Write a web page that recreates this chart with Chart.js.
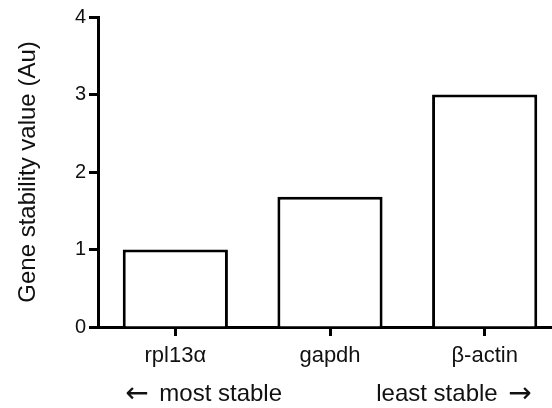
<!DOCTYPE html>
<html>
<head>
<meta charset="utf-8">
<script src="https://cdn.jsdelivr.net/npm/chart.js@4/dist/chart.umd.min.js"></script>
<style>
    html, body { margin: 0; padding: 0; background: #fff; overflow: hidden; }
    #wrap { width: 568px; height: 408px; position: relative; }
</style>
</head>
<body>
<div id="wrap"><canvas id="chart"></canvas></div>
<script>
// 数据
const genes = ['rpl13\u03b1', 'gapdh', '\u03b2-actin'];
const stability = [1.0, 1.68, 3.0];
const yTicks = [0, 1, 2, 3, 4];
const yTitle = 'Gene stability value (Au)';
const leftNote = 'most stable';
const rightNote = 'least stable';

const FONT = "'Liberation Sans', Arial, sans-serif";

// 底部注释文字（箭头用 DejaVu，显得更长）
const notesPlugin = {
    id: 'notes',
    afterDraw(chart) {
        const ctx = chart.ctx;
        const x = chart.scales.x;
        const y = 394;
        ctx.save();
        ctx.fillStyle = '#111';
        ctx.textBaseline = 'middle';
        ctx.font = '24px ' + FONT;
        ctx.textAlign = 'left';
        ctx.fillText(leftNote, x.getPixelForValue(0) - 16, y);
        ctx.textAlign = 'right';
        ctx.fillText(rightNote, x.getPixelForValue(2) + 13, y);
        ctx.font = "28px 'DejaVu Sans'";
        ctx.textAlign = 'left';
        ctx.fillText('\u2190', x.getPixelForValue(0) - 50, y + 1);
        ctx.textAlign = 'right';
        ctx.fillText('\u2192', x.getPixelForValue(2) + 47, y + 1);
        ctx.restore();
    }
};

new Chart(document.getElementById('chart'), {
    type: 'bar',
    data: {
        labels: genes,
        datasets: [{
            data: stability,
            backgroundColor: '#fff',
            borderColor: '#000',
            borderWidth: 3,
            barPercentage: 0.68,
            categoryPercentage: 1
        }]
    },
    options: {
        responsive: true,
        maintainAspectRatio: false,
        animation: false,
        layout: { padding: { top: 17, right: 6, bottom: 0, left: 8 } },
        plugins: {
            legend: { display: false },
            tooltip: { enabled: false }
        },
        scales: {
            x: {
                grid: {
                    display: true,
                    offset: false,
                    drawOnChartArea: false,
                    tickLength: 9,
                    tickWidth: 3,
                    tickColor: '#000'
                },
                border: { width: 3, color: '#000' },
                ticks: {
                    color: '#111',
                    font: { family: FONT, size: 22 },
                    padding: 7,
                    maxRotation: 0
                },
                afterFit(s) { s.height = 81; }
            },
            y: {
                min: 0,
                max: 4,
                afterBuildTicks(s) { s.ticks = yTicks.map(v => ({ value: v })); },
                grid: {
                    display: true,
                    drawOnChartArea: false,
                    tickLength: 9,
                    tickWidth: 3,
                    tickColor: '#000'
                },
                border: { width: 3, color: '#000' },
                ticks: {
                    color: '#111',
                    font: { family: FONT, size: 20 },
                    padding: 3
                },
                title: {
                    display: true,
                    text: yTitle,
                    color: '#111',
                    font: { family: FONT, size: 24 },
                    padding: { top: 6, bottom: 8 }
                },
                afterFit(s) { s.width = 90; }
            }
        }
    },
    plugins: [notesPlugin]
});
</script>
</body>
</html>
